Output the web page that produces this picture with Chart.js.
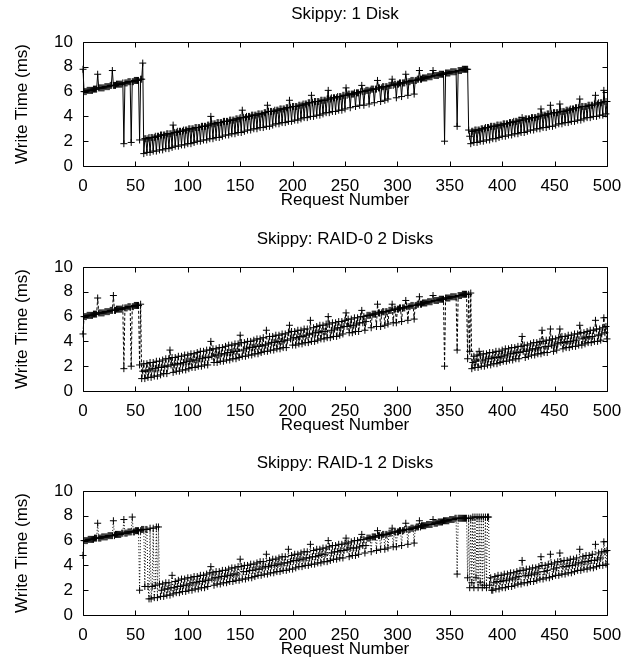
<!DOCTYPE html>
<html>
<head>
<meta charset="utf-8">
<title>Skippy write times</title>
<script src="https://cdn.jsdelivr.net/npm/chart.js@4.4.1/dist/chart.umd.min.js"></script>
<style>
  body { margin: 0; background: #fff; }
  #wrap { position: relative; width: 633px; height: 660px; background: #fff; }
  canvas { position: absolute; left: 0; }
</style>
</head>
<body>
<div id="wrap">
  <canvas id="c1" width="633" height="211" style="top:0px"></canvas>
  <canvas id="c2" width="633" height="211" style="top:225px"></canvas>
  <canvas id="c3" width="633" height="211" style="top:449px"></canvas>
</div>
<script>
// write time (ms) of requests 0..500 (10 per row)
var oneDisk = [
  7.8,6.0,6.0,6.0,6.1,6.1,6.1,6.1,6.1,6.1,
  6.2,6.2,6.2,6.2,7.4,6.3,6.3,6.3,6.3,6.3,
  6.3,6.4,6.4,6.4,6.4,6.4,6.5,6.5,7.7,6.5,
  6.5,6.5,6.6,6.6,6.6,6.6,6.6,6.6,6.7,1.8,
  6.7,6.7,6.7,6.8,6.8,6.8,1.9,6.8,6.8,6.9,
  6.9,6.9,6.9,6.9,2.1,7.0,7.0,8.3,1.0,2.2,
  2.2,1.1,2.2,2.3,1.1,2.3,2.3,1.2,2.3,2.4,
  1.2,2.4,2.4,1.3,2.5,2.5,1.3,2.5,2.5,1.4,
  2.6,2.6,1.4,2.6,2.6,1.5,3.3,2.7,1.6,2.7,
  2.8,1.6,2.8,2.8,1.7,2.8,2.9,1.7,2.9,2.9,
  1.8,3.0,3.0,1.8,3.0,3.0,1.9,3.1,3.1,2.0,
  3.1,3.1,2.0,3.2,3.2,2.1,3.2,3.2,2.1,3.3,
  3.3,2.2,4.0,3.4,2.2,3.4,3.4,2.3,3.5,3.5,
  2.3,3.5,3.5,2.4,3.6,3.6,2.5,3.6,3.6,2.5,
  3.7,3.7,2.6,3.7,3.7,2.6,3.8,3.8,2.7,3.8,
  3.9,2.7,4.5,3.9,2.8,3.9,4.0,2.9,4.0,4.0,
  2.9,4.1,4.1,3.0,4.1,4.1,3.0,4.2,4.2,3.1,
  4.2,4.2,3.1,4.3,4.3,3.2,4.9,4.4,3.2,4.4,
  4.4,3.3,4.4,4.5,3.4,4.5,4.5,3.4,4.6,4.6,
  3.5,4.6,4.6,3.5,4.7,4.7,3.6,5.3,4.7,3.6,
  4.8,4.8,3.7,4.8,4.8,3.7,4.9,4.9,3.8,4.9,
  5.0,3.9,5.0,5.0,3.9,5.1,5.1,4.0,5.7,5.1,
  4.0,5.2,5.2,4.1,5.2,5.2,4.1,5.3,5.3,4.2,
  5.3,5.3,4.3,5.4,6.1,4.3,5.4,5.5,4.4,5.5,
  5.5,4.4,5.5,5.6,4.5,5.6,5.6,4.5,5.7,5.7,
  4.6,6.3,5.7,5.8,5.8,4.7,5.8,5.8,5.8,5.9,
  4.8,5.9,5.9,5.9,4.9,6.0,6.5,6.0,4.9,6.0,
  6.1,6.1,6.1,5.0,6.1,6.2,6.2,6.2,5.1,6.2,
  6.2,6.9,6.3,6.3,5.2,6.3,6.4,6.4,5.3,6.4,
  6.4,5.4,6.5,6.5,6.5,7.0,6.5,6.6,6.6,5.5,
  6.6,6.6,6.7,6.7,5.6,6.7,6.7,6.7,7.4,6.8,
  5.7,6.8,6.8,6.9,6.9,6.9,5.8,6.9,6.9,7.0,
  7.0,7.7,7.0,7.0,7.1,7.1,7.1,7.1,7.1,7.2,
  7.2,7.2,7.2,7.2,7.7,7.3,7.3,7.3,7.3,7.3,
  7.4,7.4,7.4,7.4,7.4,2.0,7.5,7.5,7.5,7.5,
  7.5,7.6,7.6,7.6,7.6,7.6,7.6,3.2,7.7,7.7,
  7.7,7.7,7.8,7.8,7.8,7.8,7.8,7.8,2.9,2.4,
  1.8,2.8,2.8,1.9,2.9,2.9,1.9,2.9,2.9,2.0,
  3.0,3.0,2.0,3.0,3.1,2.1,3.1,3.1,2.1,3.2,
  3.2,2.2,3.2,3.2,2.2,3.3,3.3,2.3,3.3,3.3,
  2.4,3.4,3.4,2.4,3.4,3.4,2.5,3.5,3.5,2.5,
  3.5,3.6,2.6,3.6,3.6,2.6,3.7,3.7,2.7,3.9,
  3.7,2.7,3.8,3.8,2.8,3.8,3.8,2.9,3.9,3.9,
  2.9,3.9,3.9,3.0,4.0,4.0,3.0,4.6,4.1,3.1,
  4.1,4.1,3.1,4.2,4.2,3.2,4.9,4.2,3.2,4.3,
  4.3,3.3,4.3,4.3,3.4,5.0,4.4,3.4,4.4,4.4,
  3.5,4.5,4.5,3.5,4.5,4.6,3.6,4.6,4.6,3.6,
  4.7,4.7,3.7,4.7,5.4,3.7,4.8,4.8,3.8,4.8,
  4.8,3.9,4.9,4.9,3.9,4.9,4.9,4.0,5.0,5.7,
  4.0,5.0,5.1,4.1,5.1,5.1,4.1,6.1,5.2,4.2,
  5.2
];

var raid0 = [
  4.6,6.0,6.0,6.0,6.1,6.1,6.1,6.1,6.1,6.1,
  6.2,6.2,6.2,6.2,7.5,6.3,6.3,6.3,6.3,6.3,
  6.3,6.4,6.4,6.4,6.4,6.4,6.5,6.5,6.5,7.7,
  6.5,6.5,6.6,6.6,6.6,6.6,6.6,6.6,6.7,1.8,
  6.7,6.7,6.7,6.8,6.8,6.8,2.0,6.8,6.8,6.9,
  6.9,6.9,6.9,6.9,2.1,7.0,1.0,1.6,2.2,1.0,
  1.6,2.2,1.1,1.7,2.3,1.1,1.8,2.3,1.2,1.8,
  2.4,1.2,1.9,2.4,1.3,1.9,2.5,1.4,2.0,2.6,
  1.4,2.0,2.6,3.3,2.1,2.7,1.5,2.1,2.7,1.6,
  2.2,2.8,1.6,2.2,2.8,1.7,2.3,2.9,1.7,2.4,
  2.9,1.8,2.4,3.0,1.9,2.5,3.0,1.9,2.5,3.1,
  2.0,2.6,3.2,2.0,2.6,3.2,2.1,2.7,3.3,2.1,
  2.7,3.3,4.0,2.8,3.4,2.3,2.9,3.4,2.3,2.9,
  3.5,2.4,3.0,3.5,2.4,3.0,3.6,2.5,3.1,3.7,
  2.5,3.1,3.7,2.6,3.2,3.8,2.6,3.2,3.8,2.7,
  4.5,3.9,2.8,3.3,3.9,2.8,3.4,4.0,2.9,3.5,
  4.0,2.9,3.5,4.1,3.0,3.6,4.2,3.0,3.6,4.2,
  3.1,3.7,4.3,3.2,3.7,4.9,3.2,3.8,4.4,3.3,
  3.9,4.4,3.3,3.9,4.5,3.4,4.0,4.5,3.4,4.0,
  4.6,3.5,4.1,4.6,3.5,4.1,4.7,5.3,4.2,4.8,
  3.7,4.3,4.8,3.7,4.3,4.9,3.8,4.4,4.9,3.8,
  4.4,5.0,3.9,4.5,5.0,3.9,4.6,5.7,4.0,4.6,
  5.1,4.0,4.7,5.2,4.1,4.7,5.3,4.2,4.8,5.3,
  4.2,4.8,5.4,4.3,6.0,5.4,4.3,4.9,5.5,4.4,
  5.0,5.5,4.4,5.1,5.6,4.5,5.1,5.6,4.6,5.2,
  5.7,6.3,5.2,5.8,4.7,5.3,5.8,4.7,5.3,5.9,
  4.8,5.4,5.9,4.8,5.5,6.0,6.5,5.5,6.0,4.9,
  5.6,6.1,6.1,6.1,6.1,5.1,6.2,6.2,6.2,6.2,
  5.2,7.0,6.3,6.3,5.2,6.3,6.4,6.4,5.3,6.4,
  6.4,5.4,6.5,6.5,6.5,7.0,5.5,6.6,6.6,5.5,
  6.6,6.6,6.7,6.7,5.6,6.7,6.7,6.7,7.3,6.8,
  5.7,6.8,6.8,6.9,6.9,6.9,5.8,6.9,6.9,7.0,
  7.0,7.6,7.0,7.0,7.1,7.1,7.1,7.1,7.1,7.2,
  7.2,7.2,7.2,7.2,7.7,7.3,7.3,7.3,7.3,7.3,
  7.4,7.4,7.4,7.4,7.4,2.0,7.5,7.5,7.5,7.5,
  7.5,7.6,7.6,7.6,7.6,7.6,7.6,3.3,7.7,7.7,
  7.7,7.7,7.8,7.8,7.8,7.8,7.8,2.6,7.8,3.2,
  7.9,1.8,2.3,2.8,1.9,2.4,2.9,1.9,3.2,2.9,
  2.0,2.5,3.0,2.0,2.5,3.0,2.1,2.6,3.1,2.1,
  2.6,3.1,2.2,2.7,3.2,2.2,2.7,3.2,2.3,2.8,
  3.3,2.4,2.9,3.4,2.4,2.9,3.4,2.5,3.0,3.5,
  2.5,3.0,3.5,2.6,3.1,3.6,2.6,3.1,3.6,4.4,
  3.2,3.7,2.7,3.2,3.7,2.8,3.3,3.8,2.9,3.4,
  3.9,2.9,3.4,3.9,3.0,3.5,4.0,3.0,4.9,4.0,
  3.1,3.6,4.1,3.1,3.6,4.1,5.0,3.7,4.2,3.2,
  3.7,4.2,3.3,3.8,4.3,5.0,3.9,4.4,3.4,3.9,
  4.4,3.5,4.0,4.5,3.5,4.0,4.5,3.6,4.1,4.6,
  3.6,4.1,4.6,3.7,5.3,4.7,3.7,4.2,4.7,3.8,
  4.3,4.8,3.9,4.4,4.9,3.9,4.4,4.9,4.0,5.7,
  5.0,4.0,4.5,5.0,4.1,4.6,5.1,5.9,4.7,5.2,
  4.2
];

var raid1 = [
  4.8,6.0,6.0,6.0,6.0,6.1,6.1,6.1,6.1,6.1,
  6.1,6.2,6.2,6.2,7.4,6.2,6.2,6.2,6.3,6.3,
  6.3,6.3,6.3,6.3,6.4,6.4,6.4,6.4,6.4,7.6,
  6.4,6.5,6.5,6.5,6.5,6.5,6.5,6.6,6.6,7.7,
  6.6,6.6,6.6,6.7,6.7,6.7,6.7,7.9,6.7,6.7,
  6.8,6.8,6.8,6.8,2.0,6.8,6.9,6.9,6.9,2.3,
  6.9,6.9,2.3,1.3,7.0,1.3,2.3,7.0,1.4,2.4,
  7.1,1.4,7.1,2.5,1.5,2.0,2.5,1.5,2.1,2.6,
  1.6,2.1,2.6,1.6,2.2,3.2,1.7,2.2,2.7,1.8,
  2.3,2.8,1.8,2.3,2.9,1.9,2.4,2.9,1.9,2.4,
  3.0,2.0,2.5,3.0,2.0,2.6,3.1,2.1,2.6,3.1,
  2.1,2.7,3.2,2.2,2.7,3.2,2.2,2.8,3.3,2.3,
  2.8,3.4,3.9,2.9,3.4,2.4,3.0,3.5,2.5,3.0,
  3.5,2.5,3.1,3.6,2.6,3.1,3.6,2.6,3.2,3.7,
  2.7,3.2,3.8,2.7,3.3,3.8,2.8,3.3,3.9,2.8,
  4.5,3.9,2.9,3.5,4.0,2.9,3.5,4.0,3.0,3.6,
  4.1,3.0,3.6,4.1,3.1,3.7,4.2,3.2,3.7,4.3,
  3.2,3.8,4.3,3.3,3.9,4.9,3.3,3.9,4.4,3.4,
  4.0,4.5,3.4,4.0,4.5,3.5,4.1,4.6,3.5,4.1,
  4.7,3.6,4.2,4.7,3.6,4.2,5.3,3.7,4.3,4.8,
  3.7,4.4,4.9,3.8,4.4,4.9,3.9,4.5,5.0,3.9,
  4.5,5.1,4.0,4.6,5.1,4.0,4.6,5.7,4.1,4.7,
  5.2,4.1,4.7,5.3,4.2,4.8,5.3,4.2,4.9,5.4,
  4.3,4.9,5.4,4.3,6.0,5.5,4.4,5.0,5.6,4.5,
  5.1,5.6,4.5,5.1,5.7,4.6,5.2,5.7,4.6,5.2,
  5.8,6.2,5.3,5.8,4.7,5.4,5.9,4.8,5.4,6.0,
  4.8,5.4,6.0,4.9,5.5,6.1,6.5,5.6,6.1,5.0,
  5.6,6.2,6.2,6.2,6.2,5.1,6.3,6.3,6.3,6.3,
  5.2,6.8,6.4,6.4,5.3,6.4,6.5,6.5,5.3,6.5,
  6.5,5.4,6.6,6.6,6.6,7.0,5.5,6.7,6.7,5.5,
  6.7,6.7,6.8,6.8,5.6,6.8,6.8,6.9,7.4,6.9,
  5.7,6.9,6.9,7.0,7.0,7.0,5.8,7.0,7.1,7.1,
  7.1,7.6,7.1,7.2,7.2,7.2,7.2,7.2,7.3,7.3,
  7.3,7.3,7.3,7.3,7.7,7.4,7.4,7.4,7.4,7.5,
  7.5,7.5,7.5,7.5,7.6,7.6,7.6,7.6,7.6,7.6,
  7.7,7.7,7.7,7.7,7.7,7.8,7.8,3.3,7.8,7.8,
  7.8,7.8,7.8,7.8,7.8,7.8,7.8,3.0,7.8,2.2,
  7.8,2.6,7.9,2.2,7.9,3.0,7.9,2.2,7.9,2.6,
  7.9,2.2,7.9,2.4,7.9,2.2,7.9,7.9,2.4,3.0,
  2.0,2.0,2.6,3.1,2.1,2.7,3.2,2.1,2.7,3.2,
  2.2,2.8,3.3,2.2,2.8,3.3,2.3,2.9,3.4,2.3,
  2.9,3.4,2.4,3.0,3.5,2.5,3.1,3.6,2.5,4.4,
  3.6,2.6,3.2,3.7,2.6,3.2,3.7,2.7,3.3,3.8,
  2.7,3.3,3.8,2.8,3.4,3.9,2.9,4.7,4.0,2.9,
  3.5,4.0,3.0,3.6,4.1,3.0,4.9,4.1,3.1,3.7,
  4.2,3.2,3.8,4.3,3.2,5.0,4.3,3.3,3.9,4.4,
  3.3,3.9,4.4,3.4,4.0,4.5,3.4,4.0,4.5,3.5,
  4.1,4.6,3.6,4.2,5.3,3.6,4.2,4.7,3.7,4.3,
  4.8,3.7,4.3,4.8,3.8,4.4,4.9,3.8,4.4,5.7,
  3.9,4.5,5.0,4.0,4.6,5.1,4.0,5.9,5.1,4.1,
  5.2
];

var titles = ['Skippy: 1 Disk', 'Skippy: RAID-0 2 Disks', 'Skippy: RAID-1 2 Disks'];

Chart.defaults.font.family = "'Liberation Sans', Arial, Helvetica, sans-serif";
Chart.defaults.font.size = 17;
Chart.defaults.color = '#000';

// box round the plot with gnuplot style ticks pointing inwards
var frame = {
  id: 'frame',
  afterDatasetsDraw: function (chart) {
    var ctx = chart.ctx, a = chart.chartArea;
    var sx = chart.scales.x, sy = chart.scales.y;
    var l = Math.round(a.left) + 0.5, r = Math.round(a.right) + 0.5;
    var t = Math.round(a.top) + 0.5, b = Math.round(a.bottom) + 0.5;
    ctx.save();
    ctx.strokeStyle = '#000';
    ctx.lineWidth = 1;
    ctx.setLineDash([]);
    ctx.beginPath();
    ctx.rect(l, t, r - l, b - t);
    sx.ticks.forEach(function (tk) {
      var px = Math.round(sx.getPixelForValue(tk.value)) + 0.5;
      ctx.moveTo(px, b); ctx.lineTo(px, b - 5);
      ctx.moveTo(px, t); ctx.lineTo(px, t + 5);
    });
    sy.ticks.forEach(function (tk) {
      var py = Math.round(sy.getPixelForValue(tk.value)) + 0.5;
      ctx.moveTo(l, py); ctx.lineTo(l + 5, py);
      ctx.moveTo(r, py); ctx.lineTo(r - 5, py);
    });
    ctx.stroke();
    ctx.restore();
  }
};

function skippyChart(id, title, values, dash) {
  var points = values.map(function (v, i) { return { x: i, y: v }; });
  return new Chart(document.getElementById(id), {
    type: 'line',
    data: {
      datasets: [{
        data: points,
        borderColor: '#000',
        borderWidth: 1,
        borderDash: dash,
        pointStyle: 'cross',
        pointRadius: 3.5,
        pointBorderColor: '#000',
        pointBackgroundColor: '#000',
        pointBorderWidth: 1,
        tension: 0,
        clip: 6
      }]
    },
    options: {
      responsive: false,
      animation: false,
      devicePixelRatio: 1,
      layout: { padding: { top: 0, right: 26, bottom: 0, left: 0 } },
      plugins: {
        legend: { display: false },
        tooltip: { enabled: false },
        title: {
          display: true,
          text: title,
          fullSize: false,
          font: { size: 17, weight: 'normal' },
          padding: { top: 4, bottom: 17.6 }
        }
      },
      scales: {
        x: {
          type: 'linear', min: 0, max: 500,
          grid: { display: false, drawTicks: false },
          border: { display: false },
          ticks: { stepSize: 50, padding: 10, maxRotation: 0, autoSkip: false },
          title: { display: true, text: 'Request Number', padding: { top: 0, bottom: 0 } },
          afterFit: function (s) { s.height = 45; }
        },
        y: {
          min: 0, max: 10,
          grid: { display: false, drawTicks: false },
          border: { display: false },
          ticks: { stepSize: 2, padding: 10 },
          title: { display: true, text: 'Write Time (ms)', padding: { top: 12, bottom: 0 } },
          afterFit: function (s) { s.width = 83; }
        }
      }
    },
    plugins: [frame]
  });
}

skippyChart('c1', titles[0], oneDisk, []);
skippyChart('c2', titles[1], raid0, [3, 2]);
skippyChart('c3', titles[2], raid1, [1, 2]);
</script>
</body>
</html>
